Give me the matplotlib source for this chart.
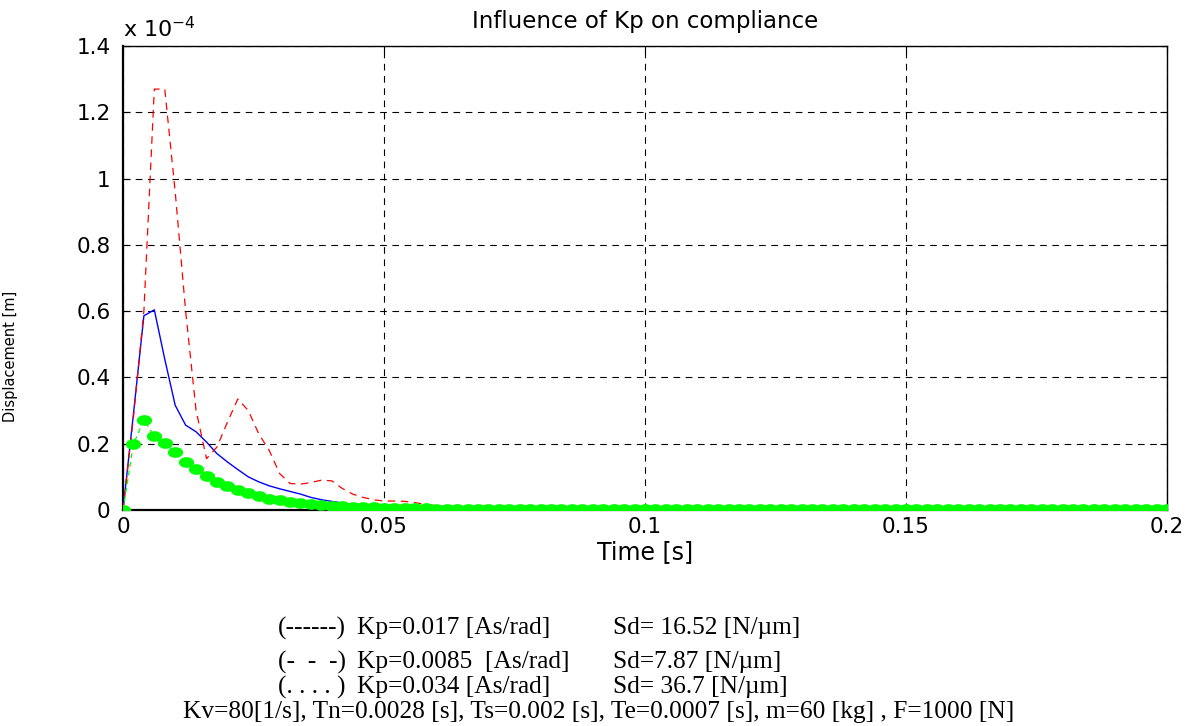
import numpy as np
import matplotlib
matplotlib.use("Agg")
import matplotlib.pyplot as plt

# sample time [s], one point every Ts = 0.002 s
time_s = np.linspace(0.0, 0.2, 101)

# displacement in units of 1e-4 m
# Kp = 0.017 (solid blue)
disp_kp017 = [
    0.0, 0.29, 0.586, 0.604, 0.455, 0.316, 0.256, 0.236, 0.205, 0.17,
    0.145, 0.122, 0.10, 0.085, 0.073, 0.064, 0.056, 0.048, 0.038, 0.031,
    0.026, 0.021, 0.017, 0.013, 0.011, 0.008, 0.007, 0.006, 0.005, 0.004,
    0.003, 0.003, 0.002, 0.002, 0.001, 0.001, 0.0, 0.0, 0.0, 0.0,
    0.0, 0.0, 0.0, 0.0, 0.0, 0.0, 0.0, 0.0, 0.0, 0.0,
    0.0, 0.0, 0.0, 0.0, 0.0, 0.0, 0.0, 0.0, 0.0, 0.0,
    0.0, 0.0, 0.0, 0.0, 0.0, 0.0, 0.0, 0.0, 0.0, 0.0,
    0.0, 0.0, 0.0, 0.0, 0.0, 0.0, 0.0, 0.0, 0.0, 0.0,
    0.0, 0.0, 0.0, 0.0, 0.0, 0.0, 0.0, 0.0, 0.0, 0.0,
    0.0, 0.0, 0.0, 0.0, 0.0, 0.0, 0.0, 0.0, 0.0, 0.0,
    0.0,
]
# Kp = 0.0085 (dashed red)
disp_kp0085 = [
    0.0, 0.28, 0.60, 1.27, 1.27, 0.96, 0.60, 0.30, 0.155, 0.19,
    0.265, 0.335, 0.30, 0.23, 0.18, 0.11, 0.08, 0.078, 0.083, 0.09,
    0.088, 0.065, 0.048, 0.038, 0.031, 0.027, 0.027, 0.026, 0.022, 0.017,
    0.013, 0.010, 0.008, 0.006, 0.005, 0.004, 0.003, 0.003, 0.002, 0.002,
    0.001, 0.001, 0.0, 0.0, 0.0, 0.0, 0.0, 0.0, 0.0, 0.0,
    0.0, 0.0, 0.0, 0.0, 0.0, 0.0, 0.0, 0.0, 0.0, 0.0,
    0.0, 0.0, 0.0, 0.0, 0.0, 0.0, 0.0, 0.0, 0.0, 0.0,
    0.0, 0.0, 0.0, 0.0, 0.0, 0.0, 0.0, 0.0, 0.0, 0.0,
    0.0, 0.0, 0.0, 0.0, 0.0, 0.0, 0.0, 0.0, 0.0, 0.0,
    0.0, 0.0, 0.0, 0.0, 0.0, 0.0, 0.0, 0.0, 0.0, 0.0,
    0.0,
]
# Kp = 0.034 (green dots)
disp_kp034 = [
    0.0, 0.199, 0.272, 0.222, 0.202, 0.174, 0.146, 0.123, 0.104, 0.085,
    0.071, 0.061, 0.052, 0.043, 0.034, 0.030, 0.025, 0.021, 0.018, 0.016,
    0.013, 0.011, 0.010, 0.009, 0.008, 0.007, 0.006, 0.006, 0.005, 0.005,
    0.004, 0.004, 0.004, 0.003, 0.003, 0.003, 0.003, 0.003, 0.003, 0.003,
    0.003, 0.003, 0.003, 0.003, 0.003, 0.003, 0.003, 0.003, 0.003, 0.003,
    0.003, 0.003, 0.003, 0.003, 0.003, 0.003, 0.003, 0.003, 0.003, 0.003,
    0.002, 0.002, 0.002, 0.002, 0.002, 0.002, 0.002, 0.002, 0.002, 0.002,
    0.002, 0.002, 0.002, 0.002, 0.002, 0.002, 0.002, 0.002, 0.002, 0.002,
    0.002, 0.002, 0.002, 0.002, 0.002, 0.002, 0.002, 0.002, 0.002, 0.002,
    0.002, 0.002, 0.002, 0.002, 0.002, 0.002, 0.002, 0.002, 0.002, 0.002,
    0.002,
]

x_ticks = [0, 0.05, 0.1, 0.15, 0.2]
x_tick_labels = ["0", "0.05", "0.1", "0.15", "0.2"]
y_ticks = [0, 0.2, 0.4, 0.6, 0.8, 1.0, 1.2, 1.4]
y_tick_labels = ["0", "0.2", "0.4", "0.6", "0.8", "1", "1.2", "1.4"]

legend_rows = [
    ("(------)", "Kp=0.017 [As/rad]", "Sd= 16.52 [N/\u00b5m]"),
    ("(-  -  -)", "Kp=0.0085  [As/rad]", "Sd=7.87 [N/\u00b5m]"),
    ("(. . . . )", "Kp=0.034 [As/rad]", "Sd= 36.7 [N/\u00b5m]"),
]
params_line = ("Kv=80[1/s], Tn=0.0028 [s], Ts=0.002 [s], Te=0.0007 [s], "
               "m=60 [kg] , F=1000 [N]")

W, H = 1198, 726
fig = plt.figure(figsize=(W / 100, H / 100), dpi=100)
ax = fig.add_axes([123 / W, 1 - 510 / H, (1167 - 123) / W, (510 - 46) / H])

# elliptic dot like the squashed matlab markers
th = np.linspace(0, 2 * np.pi, 40)
ellipse = list(zip(np.cos(th), 0.7 * np.sin(th)))

ax.plot(time_s, disp_kp017, color="#0000ff", lw=1.0, zorder=3)
ax.plot(time_s, disp_kp0085, color="#ff0000", lw=0.9, dashes=(6, 4.5), zorder=3)
ax.plot(time_s, disp_kp034, color="#00ff00", lw=0.9, dashes=(4, 3),
        marker=ellipse, markersize=11, markeredgewidth=0, zorder=4)

ax.set_xlim(0, 0.2)
ax.set_ylim(0, 1.4)
ax.set_xticks(x_ticks)
ax.set_xticklabels(x_tick_labels)
ax.set_yticks(y_ticks)
ax.set_yticklabels(y_tick_labels)
ax.tick_params(direction="in", length=5, width=0.8, labelsize=15.5,
               top=True, right=True, colors="black")
ax.tick_params(axis="y", pad=9)
ax.tick_params(axis="x", pad=5)
ax.grid(True, color="black", lw=0.8, dashes=(6, 5))

for side in ["left", "bottom"]:
    ax.spines[side].set_linewidth(1.6)
for side in ["top", "right"]:
    ax.spines[side].set_linewidth(1.0)

ax.text(0.5, 1.052, "Influence of Kp on compliance", transform=ax.transAxes,
        ha="center", va="center", fontsize=16.5)
ax.text(0.0, 1.038, "x 10$^{-4}$", transform=ax.transAxes,
        ha="left", va="center", fontsize=16)
ax.set_xlabel("Time [s]", fontsize=17, labelpad=2)
ax.set_ylabel("Displacement [m]", fontsize=10.5)
ax.yaxis.set_label_coords(-0.1006, 0.332)

# notes under the chart (serif, like the document text)
serif = ["Liberation Serif", "DejaVu Serif"]
row_y = [628, 662, 687]
for (mark, kp, sd), yy in zip(legend_rows, row_y):
    fig.text(278 / W, 1 - yy / H, mark, ha="left", va="center",
             fontsize=18.3, family=serif)
    fig.text(357 / W, 1 - yy / H, kp, ha="left", va="center",
             fontsize=18.3, family=serif)
    fig.text(613 / W, 1 - yy / H, sd, ha="left", va="center",
             fontsize=18.3, family=serif)
fig.text(599 / W, 1 - 712 / H, params_line, ha="center", va="center",
         fontsize=18.3, family=serif)

fig.savefig("out.png", dpi=100)
